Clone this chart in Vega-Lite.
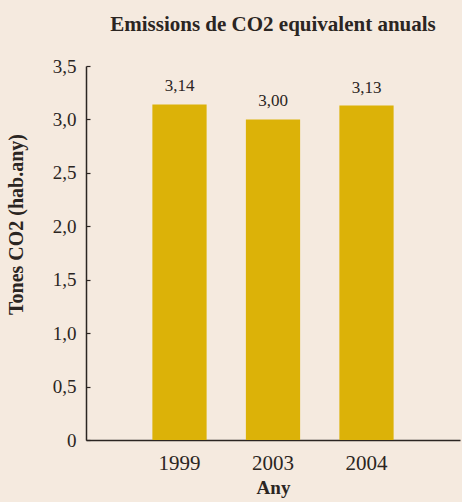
{
  "$schema": "https://vega.github.io/schema/vega-lite/v6.json",
  "autosize": "none",
  "padding": {"left": 86, "top": 66, "right": 2, "bottom": 62},
  "width": 374,
  "height": 374,
  "background": "#f5eadf",
  "config": {
    "view": {"stroke": null},
    "font": "Liberation Serif",
    "locale": {"number": {"decimal": ",", "thousands": ".", "grouping": [3], "currency": ["", " €"]}}
  },
  "title": {
    "text": "Emissions de CO2 equivalent anuals",
    "font": "Liberation Serif",
    "fontSize": 21,
    "fontWeight": "bold",
    "color": "#2b2522",
    "anchor": "middle",
    "offset": 22
  },
  "data": {
    "values": [
      {"Any": "1999", "Tones": 3.14},
      {"Any": "2003", "Tones": 3.00},
      {"Any": "2004", "Tones": 3.13}
    ]
  },
  "encoding": {
    "x": {
      "field": "Any",
      "type": "nominal",
      "sort": null,
      "scale": {"paddingInner": 0.42, "paddingOuter": 0.71},
      "axis": {
        "title": "Any",
        "titleFont": "Liberation Serif",
        "titleFontSize": 19,
        "titleFontWeight": "bold",
        "titleColor": "#2b2522",
        "titlePadding": 5,
        "labelAngle": 0,
        "labelFont": "Liberation Serif",
        "labelFontSize": 21,
        "labelColor": "#2b2522",
        "labelPadding": 12,
        "ticks": false,
        "domainColor": "#2b2522",
        "domainWidth": 1.5
      }
    },
    "y": {
      "field": "Tones",
      "type": "quantitative",
      "scale": {"domain": [0, 3.5], "nice": false},
      "axis": {
        "title": "Tones CO2 (hab.any)",
        "titleFont": "Liberation Serif",
        "titleFontSize": 20,
        "titleFontWeight": "bold",
        "titleColor": "#2b2522",
        "titlePadding": 26,
        "titleY": 158,
        "values": [0, 0.5, 1, 1.5, 2, 2.5, 3, 3.5],
        "format": ".1f",
        "labelExpr": "datum.value == 0 ? '0' : datum.label",
        "labelFont": "Liberation Serif",
        "labelFontSize": 19,
        "labelColor": "#2b2522",
        "labelPadding": 14,
        "grid": false,
        "tickSize": -4,
        "tickColor": "#2b2522",
        "tickWidth": 1.2,
        "domainColor": "#2b2522",
        "domainWidth": 1.5
      }
    }
  },
  "layer": [
    {"mark": {"type": "bar", "color": "#dcb208"}},
    {
      "mark": {"type": "text", "dy": -9, "baseline": "bottom", "font": "Liberation Serif", "fontSize": 17, "color": "#2b2522"},
      "encoding": {"text": {"field": "Tones", "type": "quantitative", "format": ".2f"}}
    }
  ]
}
